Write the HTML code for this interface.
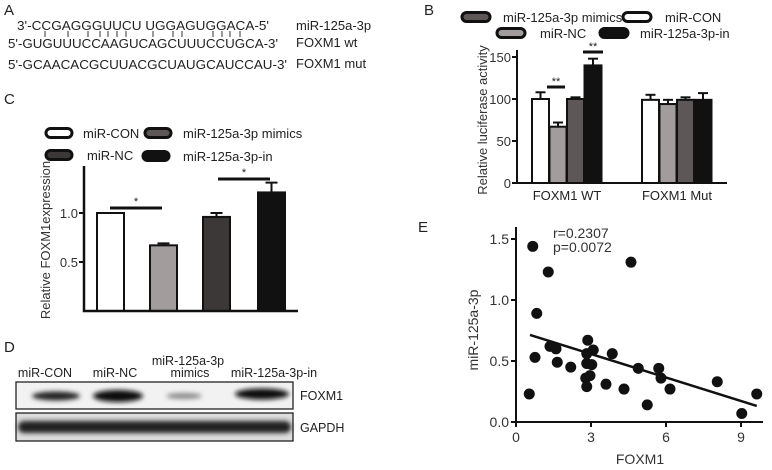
<!DOCTYPE html>
<html><head><meta charset="utf-8"><style>
html,body{margin:0;padding:0;background:#fff;}
svg{display:block;font-family:"Liberation Sans",sans-serif;}
</style></head><body>
<svg id="fig" width="772" height="470" viewBox="0 0 772 470">
<defs><filter id="blur" x="-50%" y="-50%" width="200%" height="200%"><feGaussianBlur stdDeviation="2.5"/></filter></defs>
<!-- Panel A -->
<g font-size="13" fill="#222">
<text x="4" y="15" font-size="15">A</text>
<text x="17" y="30" textLength="252" lengthAdjust="spacingAndGlyphs">3'-CCGAGGGUUCU  UGGAGUGGACA-5'</text>
<text x="8" y="48" textLength="270" lengthAdjust="spacingAndGlyphs">5'-GUGUUUCCAAGUCAGCUUUCCUGCA-3'</text>
<text x="8" y="69" textLength="279" lengthAdjust="spacingAndGlyphs">5'-GCAACACGCUUACGCUAUGCAUCCAU-3'</text>
<text x="296" y="30">miR-125a-3p</text>
<text x="296" y="47">FOXM1 wt</text>
<text x="296" y="68">FOXM1 mut</text>
<g id="pairs" stroke="#333" stroke-width="1"></g>
</g>
<!-- Panel B -->
<g id="pb" font-size="13" fill="#222">
<text x="424" y="15" font-size="15">B</text>
</g>
<!-- Panel C -->
<g id="pc" font-size="13" fill="#222">
<text x="4" y="104" font-size="15">C</text>
</g>
<!-- Panel D -->
<g id="pd" font-size="12.5" fill="#222">
<text x="4" y="352" font-size="15">D</text>
<text x="45" y="377" text-anchor="middle">miR-CON</text>
<text x="115" y="377" text-anchor="middle">miR-NC</text>
<text x="188" y="365" text-anchor="middle">miR-125a-3p</text>
<text x="190" y="377" text-anchor="middle">mimics</text>
<text x="274" y="377" text-anchor="middle">miR-125a-3p-in</text>
<rect x="16" y="382" width="277" height="27" fill="#f2f2f2" stroke="#222" stroke-width="1.3"/>
<rect x="16" y="413" width="277" height="28" fill="#ddd" stroke="#222" stroke-width="1.3"/>
<g filter="url(#blur)">
<ellipse cx="56" cy="396" rx="24" ry="4.5" fill="#222"/>
<ellipse cx="118" cy="396" rx="25" ry="6" fill="#111"/>
<ellipse cx="184" cy="396" rx="18" ry="3" fill="#888"/>
<ellipse cx="262" cy="394" rx="27" ry="5.5" fill="#111"/>
<rect x="18" y="421" width="273" height="12" rx="6" fill="#222"/>
</g>
<text x="300" y="400">FOXM1</text>
<text x="300" y="432">GAPDH</text>
</g>
<!-- Panel E -->
<g id="pe" font-size="14" fill="#222">
<text x="418" y="232" font-size="15">E</text>
</g>
</svg>
<script>
var NS="http://www.w3.org/2000/svg";
function mk(p,t,a){var e=document.createElementNS(NS,t);for(var k in a)e.setAttribute(k,a[k]);p.appendChild(e);return e;}
var pairX=[45,68,88,100,108,117,126,153,173,182,213,222,230,240];
var pg=document.getElementById('pairs');
pairX.forEach(function(x){var l=mk(pg,'line',{x1:x,x2:x,y1:31,y2:37});

});

// ---------- Panel B ----------
var bGroups=["FOXM1 WT","FOXM1 Mut"];
var bSeries=["miR-CON","miR-NC","miR-125a-3p mimics","miR-125a-3p-in"];
var bWT=[100,67,100,140];
var bMut=[99,94,99,99];
var bWTErr=[8,5,2,8];
var bMutErr=[6,5,3,8];
var bTicks=[0,50,100,150];
var bColors=["#fff","#a39c9c","#5e5757","#111"];
(function(){
var g=document.getElementById('pb');
var x0=517,y0=183,yTop=57;
function y(v){return y0-(v/150)*(y0-yTop);}
var groupStart=[532,642],bw=17,gap=0.5;
[bWT,bMut].forEach(function(vals,gi){
 var errs=gi?bMutErr:bWTErr;
 vals.forEach(function(v,i){
  var bx=groupStart[gi]+i*(bw+gap);
  var t=mk(g,'line',{x1:bx+bw/2,x2:bx+bw/2,y1:y(v),y2:y(v+errs[i]),stroke:"#111","stroke-width":2});
  
  var c=mk(g,'line',{x1:bx+bw/2-5,x2:bx+bw/2+5,y1:y(v+errs[i]),y2:y(v+errs[i]),stroke:"#111","stroke-width":2});
  
  var r=mk(g,'rect',{x:bx,y:y(v),width:bw,height:y0-y(v),fill:bColors[i],stroke:"#111","stroke-width":2});
  
  
 });
 var lb=mk(g,'text',{x:groupStart[gi]+2*(bw+gap),y:200,"text-anchor":"middle"});lb.textContent=bGroups[gi];
 
});
var ax=mk(g,'path',{d:"M"+x0+" 50 V"+y0+" H727",fill:"none",stroke:"#111","stroke-width":2});

bTicks.forEach(function(t){
 var l=mk(g,'line',{x1:x0-5,x2:x0,y1:y(t),y2:y(t),stroke:"#111","stroke-width":2});
 
 var tx=mk(g,'text',{x:x0-6,y:y(t)+5,"text-anchor":"end",fill:"#333"});tx.textContent=t;
 
});
var yl=mk(g,'text',{transform:"translate(487,120) rotate(-90)","text-anchor":"middle",fill:"#333"});yl.textContent="Relative luciferase activity";

[[547,565,87],[583,603,52]].forEach(function(s){
 var l=mk(g,'line',{x1:s[0],x2:s[1],y1:s[2],y2:s[2],stroke:"#111","stroke-width":3});
 
 var t=mk(g,'text',{x:(s[0]+s[1])/2,y:s[2]-2,"text-anchor":"middle","font-size":11});t.textContent="**";
 
});
var leg=[[462,17,"#5e5757",2,"miR-125a-3p mimics",503],[623,17,"#fff",3,"miR-CON",665],[497,33,"#a39c9c",1,"miR-NC",540],[600,33,"#111",3,"miR-125a-3p-in",640]];
leg.forEach(function(L){
 var r=mk(g,'rect',{x:L[0],y:L[1]-4.5,width:28,height:9,rx:4.5,fill:L[2],stroke:"#111","stroke-width":3});
 
 var t=mk(g,'text',{x:L[5],y:L[1]+5});t.textContent=L[4];
 
});
})();

// ---------- Panel C ----------
var cSeries=["miR-CON","miR-NC","miR-125a-3p mimics","miR-125a-3p-in"];
var cValues=[1.0,0.67,0.96,1.21];
var cErr=[0,0.02,0.04,0.10];
var cTicks=[0.5,1.0];
var cColors=["#fff","#a39c9c","#3d3838","#111"];
(function(){
var g=document.getElementById('pc');
var x0=84,y0=311;
function y(v){return y0-v*98;}
var bx=[97,150,203,258],bw=27;
cValues.forEach(function(v,i){
 if(cErr[i]>0){
 var t=mk(g,'line',{x1:bx[i]+bw/2,x2:bx[i]+bw/2,y1:y(v),y2:y(v+cErr[i]),stroke:"#111","stroke-width":2});
 
 var c=mk(g,'line',{x1:bx[i]+bw/2-6,x2:bx[i]+bw/2+6,y1:y(v+cErr[i]),y2:y(v+cErr[i]),stroke:"#111","stroke-width":2});
 }
 var r=mk(g,'rect',{x:bx[i],y:y(v),width:bw,height:y0-y(v),fill:cColors[i],stroke:"#111","stroke-width":2});
 
});
var ax=mk(g,'path',{d:"M"+x0+" 166 V"+y0+" H298",fill:"none",stroke:"#111","stroke-width":2.5});

cTicks.forEach(function(t){
 var l=mk(g,'line',{x1:x0-5,x2:x0,y1:y(t),y2:y(t),stroke:"#111","stroke-width":2});
 
 var tx=mk(g,'text',{x:x0-6,y:y(t)+5,"text-anchor":"end",fill:"#333"});tx.textContent=t.toFixed(1);
 
});
var yl=mk(g,'text',{transform:"translate(50,240) rotate(-90)","text-anchor":"middle",fill:"#333"});yl.textContent="Relative FOXM1expression";

[[110,162,208],[218,270,179]].forEach(function(s){
 var l=mk(g,'line',{x1:s[0],x2:s[1],y1:s[2],y2:s[2],stroke:"#111","stroke-width":3});
 
 var t=mk(g,'text',{x:(s[0]+s[1])/2,y:s[2]-3,"text-anchor":"middle","font-size":11});t.textContent="*";
 
});
var leg=[[46,133,"#fff","miR-CON",83],[145,133,"#5e5757","miR-125a-3p mimics",183],[46,155,"#3d3838","miR-NC",87],[143,156,"#111","miR-125a-3p-in",183]];
leg.forEach(function(L){
 var r=mk(g,'rect',{x:L[0],y:L[1]-4.5,width:26,height:9,rx:4.5,fill:L[2],stroke:"#111","stroke-width":3});
 
 var t=mk(g,'text',{x:L[4],y:L[1]+5});t.textContent=L[3];
 
});
})();

// ---------- Panel E ----------
var eX=[0.67,1.29,4.6,0.83,0.76,0.53,1.36,1.6,1.65,2.19,2.87,2.83,3.09,2.83,3.03,2.96,2.79,2.83,3.6,3.85,4.32,4.89,5.25,5.71,5.8,6.16,8.05,9.03,9.63];
var eY=[1.44,1.23,1.31,0.89,0.53,0.23,0.62,0.60,0.49,0.45,0.67,0.56,0.59,0.48,0.47,0.38,0.36,0.29,0.31,0.56,0.27,0.44,0.14,0.44,0.36,0.27,0.33,0.07,0.23];
var eFitSlope=-0.0642;
var eFitIntercept=0.75;
var eFitRange=[0.56,9.63];
var eXTicks=[0,3,6,9];
var eYTicks=[0.0,0.5,1.0,1.5];
(function(){
var g=document.getElementById('pe');
var x0=516,y0=422;
function sx(v){return x0+v*25;}
function sy(v){return y0-v*122;}
var ax=mk(g,'path',{d:"M"+x0+" 227 V"+y0+" H763",fill:"none",stroke:"#111","stroke-width":2});

eXTicks.forEach(function(t){
 var l=mk(g,'line',{x1:sx(t),x2:sx(t),y1:y0,y2:y0+5,stroke:"#111","stroke-width":2});
 
 var tx=mk(g,'text',{x:sx(t),y:y0+20,"text-anchor":"middle",fill:"#333"});tx.textContent=t;
 
});
eYTicks.forEach(function(t){
 var l=mk(g,'line',{x1:x0-5,x2:x0,y1:sy(t),y2:sy(t),stroke:"#111","stroke-width":2});
 
 var tx=mk(g,'text',{x:x0-7,y:sy(t)+5,"text-anchor":"end",fill:"#333"});tx.textContent=t.toFixed(1);
 
});
var fl=mk(g,'line',{x1:sx(eFitRange[0]),y1:sy(eFitIntercept+eFitSlope*eFitRange[0]),x2:sx(eFitRange[1]),y2:sy(eFitIntercept+eFitSlope*eFitRange[1]),stroke:"#111","stroke-width":2.5});

eX.forEach(function(v,i){
 var c=mk(g,'circle',{cx:sx(v),cy:sy(eY[i]),r:5.5,fill:"#111"});
 
});
var t1=mk(g,'text',{x:553,y:238,fill:"#333"});t1.textContent="r=0.2307";

var t2=mk(g,'text',{x:553,y:252,fill:"#333"});t2.textContent="p=0.0072";

var yl=mk(g,'text',{transform:"translate(478,330) rotate(-90)","text-anchor":"middle",fill:"#333"});yl.textContent="miR-125a-3p";

var xl=mk(g,'text',{x:640,y:464,"text-anchor":"middle",fill:"#333"});xl.textContent="FOXM1";

})();
</script>
</body></html>
